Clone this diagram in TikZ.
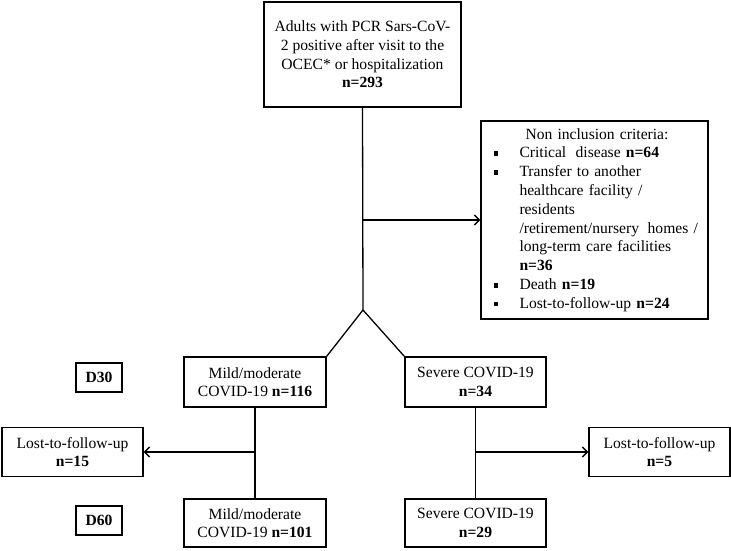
\documentclass[tikz,border=0pt]{standalone}
\usepackage{fontspec}
\setmainfont{Liberation Serif}
\usetikzlibrary{arrows.meta}
\begin{document}
\begin{tikzpicture}[x=1pt,y=-1pt,
  box/.style={draw,line width=1.4pt,align=center,inner sep=2pt,
    font=\fontsize{15.6}{18.6}\selectfont},
  conn/.style={line width=1.3pt},
  arr/.style={line width=1.3pt,-{Straight Barb[length=5pt,width=10pt]}}]
\useasboundingbox (0,0) rectangle (731,550);
\node[box,minimum width=197pt,minimum height=105pt] (top) at (362.5,54.5)
  {Adults with PCR Sars-CoV-\\2 positive after visit to the\\OCEC* or hospitalization\\\textbf{n=293}};
\node[box,minimum width=227pt,minimum height=198pt,align=left,text width=218pt,
  font=\fontsize{15.6}{18.8}\selectfont] (noninc) at (594.5,220)
  {\hspace*{40pt}Non inclusion criteria:\\
   \makebox[34pt][l]{\hspace{8pt}\rule[2pt]{4.5pt}{4.5pt}}Critical\hspace{0.6em}disease \textbf{n=64}\\
   \makebox[34pt][l]{\hspace{8pt}\rule[2pt]{4.5pt}{4.5pt}}Transfer to another\\
   \hspace*{34pt}healthcare facility /\\
   \hspace*{34pt}residents\\
   \hspace*{34pt}/retirement/nursery\hspace{0.55em}homes /\\
   \hspace*{34pt}long-term care facilities\\
   \hspace*{34pt}\textbf{n=36}\\
   \makebox[34pt][l]{\hspace{8pt}\rule[2pt]{4.5pt}{4.5pt}}Death \textbf{n=19}\\
   \makebox[34pt][l]{\hspace{8pt}\rule[2pt]{4.5pt}{4.5pt}}Lost-to-follow-up \textbf{n=24}};
\node[box,minimum width=142pt,minimum height=50pt] (mild1) at (255,382)
  {Mild/moderate\\COVID-19 \textbf{n=116}};
\node[box,minimum width=141pt,minimum height=50pt] (sev1) at (475.5,382)
  {Severe COVID-19\\\textbf{n=34}};
\node[box,minimum width=46pt,minimum height=29pt,font=\fontsize{15.6}{18.6}\selectfont\bfseries] (d30) at (99,377.5) {D30};
\node[box,minimum width=46pt,minimum height=29pt,font=\fontsize{15.6}{18.6}\selectfont\bfseries] (d60) at (99,520.5) {D60};
\node[box,minimum width=141pt,minimum height=49pt] (lostl) at (72.5,452)
  {Lost-to-follow-up\\\textbf{n=15}};
\node[box,minimum width=141pt,minimum height=49pt] (lostr) at (659.5,452)
  {Lost-to-follow-up\\\textbf{n=5}};
\node[box,minimum width=142pt,minimum height=48pt] (mild2) at (255,523)
  {Mild/moderate\\COVID-19 \textbf{n=101}};
\node[box,minimum width=141pt,minimum height=48pt] (sev2) at (475.5,523)
  {Severe COVID-19\\\textbf{n=29}};
\coordinate (apex) at (363,310);
\draw[conn] (top.south) -- (apex);
\draw[conn] (apex) -- (mild1.north east);
\draw[conn] (apex) -- (sev1.north west);
\draw[arr] (top.south |- noninc.west) -- (noninc.west);
\draw[conn] (mild1.south) -- (mild2.north);
\draw[conn] (sev1.south) -- (sev2.north);
\draw[arr] (mild1.south |- lostl.east) -- (lostl.east);
\draw[arr] (sev1.south |- lostr.west) -- (lostr.west);
\end{tikzpicture}
\end{document}
